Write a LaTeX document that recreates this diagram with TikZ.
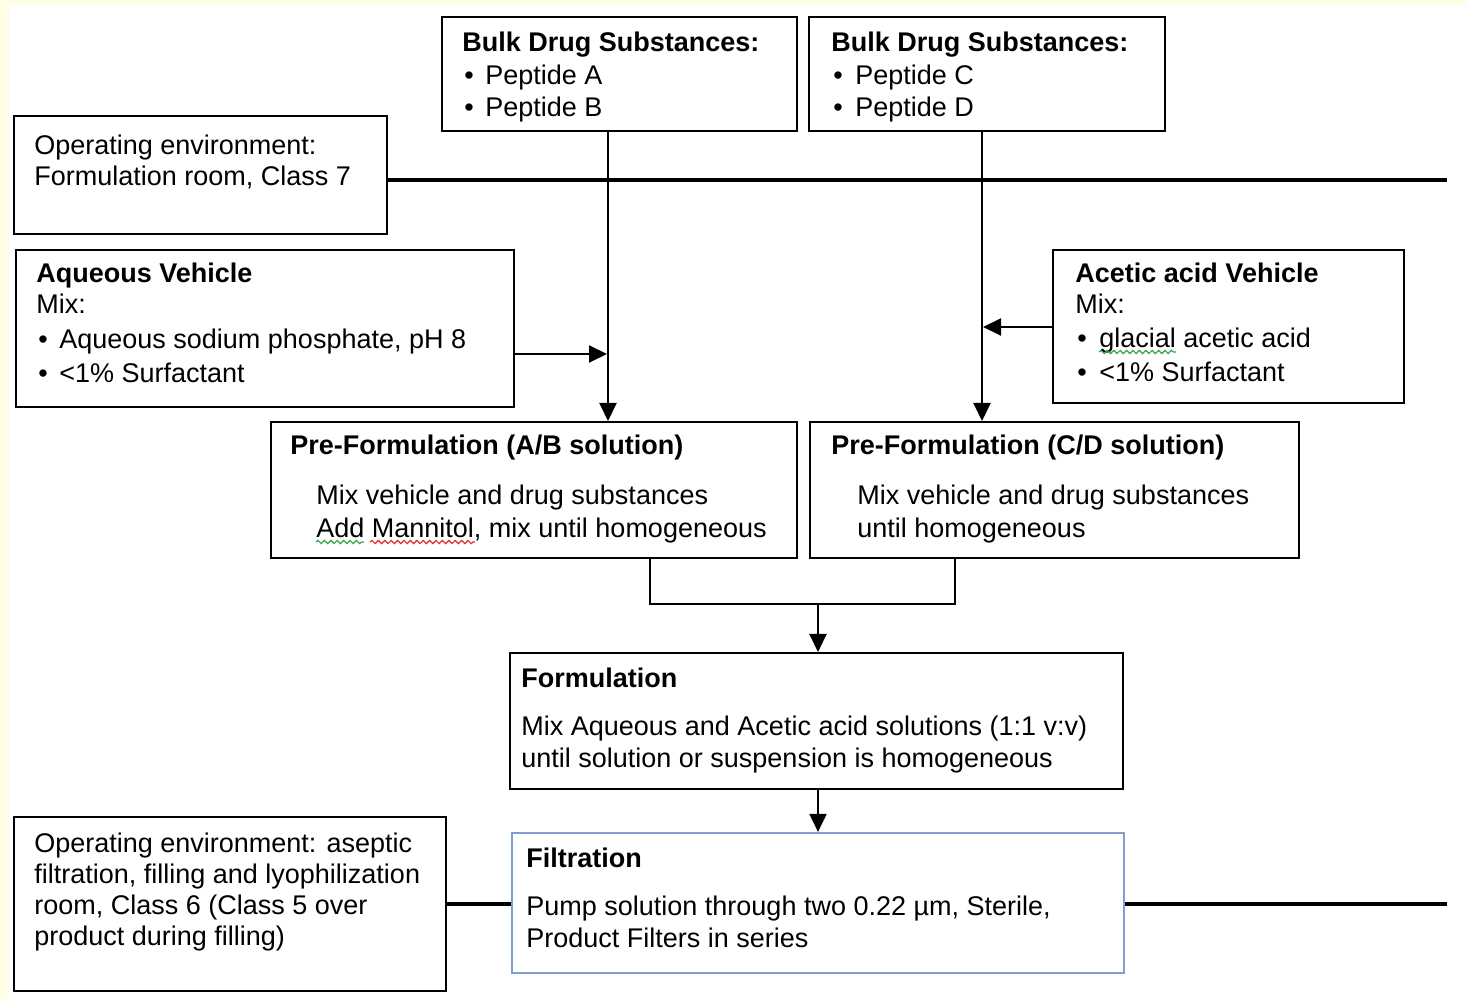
\documentclass[tikz,border=0pt]{standalone}
\usepackage{fontspec}
\setmainfont{Liberation Sans}
\usetikzlibrary{arrows.meta,decorations.pathmorphing,fit}
\definecolor{bgyellow}{RGB}{255,253,228}
\definecolor{filtblue}{RGB}{128,158,208}
\definecolor{spellred}{RGB}{235,40,40}
\definecolor{spellgreen}{RGB}{50,165,70}
\begin{document}
\begin{tikzpicture}[x=0.5pt,y=-0.5pt,
 box/.style={draw=black, line width=1pt, inner sep=0pt},
 bluebox/.style={draw=filtblue, line width=1.1pt, inner sep=0pt},
 txt/.style={anchor=base west, inner sep=0pt, font=\fontsize{13.5}{16}\selectfont},
 ttl/.style={anchor=base west, inner sep=0pt, font=\fontsize{13.5}{16}\selectfont\bfseries},
 arr/.style={line width=1pt, -{Triangle[width=8.5pt,length=9pt]}},
 conn/.style={line width=1pt},
 envline/.style={line width=1.8pt},
 wavy/.style={decorate, decoration={snake, amplitude=0.8pt, segment length=3.2pt}, line width=0.6pt}]
\useasboundingbox (0,0) rectangle (1467,999);
\fill[bgyellow] (0,0) rectangle (1467,999);
\fill[white] (9,5) rectangle (1467,999);

% boxes
\node[box, fit={(442,17) (797,131)}] (bulkab) {};
\node[box, fit={(809,17) (1165,131)}] (bulkcd) {};
\node[box, fit={(14,116) (387,234)}] (env1) {};
\node[box, fit={(16,250) (514,407)}] (aq) {};
\node[box, fit={(1053,250) (1404,403)}] (ac) {};
\node[box, fit={(271,422) (797,558)}] (preab) {};
\node[box, fit={(810,422) (1299,558)}] (precd) {};
\node[box, fit={(510,653) (1123,789)}] (form) {};
\node[box, fit={(14,817) (446,991)}] (env2) {};
\node[bluebox, fit={(512,833) (1124,973)}] (filt) {};

% texts
\node[ttl] (tab) at (462,52) {Bulk Drug Substances:};
\node[txt] (bab1) at (464,85) {•};
\node[txt] (pab1) at (485,85) {Peptide A};
\node[txt] (bab2) at (464,117) {•};
\node[txt] (pab2) at (485,117) {Peptide B};

\node[ttl] (tcd) at (831,52) {Bulk Drug Substances:};
\node[txt] (bcd1) at (833,85) {•};
\node[txt] (pcd1) at (855,85) {Peptide C};
\node[txt] (bcd2) at (833,117) {•};
\node[txt] (pcd2) at (855,117) {Peptide D};

\node[txt] (e1a) at (34,155) {Operating environment:};
\node[txt] (e1b) at (34,186) {Formulation room, Class 7};

\node[ttl] (taq) at (36,283) {Aqueous Vehicle};
\node[txt] (maq) at (36,314) {Mix:};
\node[txt] (baq1) at (38,349) {•};
\node[txt] (aq1) at (59,349) {Aqueous sodium phosphate, pH 8};
\node[txt] (baq2) at (38,383) {•};
\node[txt] (aq2) at (59,383) {<1\% Surfactant};

\node[ttl] (tac) at (1075,283) {Acetic acid Vehicle};
\node[txt] (mac) at (1075,314) {Mix:};
\node[txt] (bac1) at (1077,348) {•};
\node[txt] (ac1) at (1099,348) {glacial acetic acid};
\node[txt] (bac2) at (1077,382) {•};
\node[txt] (ac2) at (1099,382) {<1\% Surfactant};

\node[ttl] (tpab) at (290,455) {Pre-Formulation (A/B solution)};
\node[txt] (pa1) at (316,505) {Mix vehicle and drug substances};
\node[txt] (pa2) at (316,538) {Add Mannitol, mix until homogeneous};

\node[ttl] (tpcd) at (831,455) {Pre-Formulation (C/D solution)};
\node[txt] (pc1) at (857,505) {Mix vehicle and drug substances};
\node[txt] (pc2) at (857,538) {until homogeneous};

\node[ttl] (tform) at (521,687) {Formulation};
\node[txt] (f1) at (521,735) {Mix Aqueous and Acetic acid solutions (1:1 v:v)};
\node[txt] (f2) at (521,767) {until solution or suspension is homogeneous};

\node[txt] (e2a) at (34,852) {Operating environment: aseptic};
\node[txt] (e2b) at (34,883) {filtration, filling and lyophilization};
\node[txt] (e2c) at (34,914) {room, Class 6 (Class 5 over};
\node[txt] (e2d) at (34,945) {product during filling)};

\node[ttl] (tfilt) at (526,867) {Filtration};
\node[txt] (fi1) at (526,915) {Pump solution through two 0.22 µm, Sterile,};
\node[txt] (fi2) at (526,947) {Product Filters in series};

% spell-check marks
\draw[wavy, spellgreen] (1099,352) -- (1176,352);
\draw[wavy, spellgreen] (316,542) -- (364,542);
\draw[wavy, spellred] (370,542) -- (475,542);

% coordinates
\coordinate (xab) at (608,0);
\coordinate (xcd) at (982,0);
\coordinate (xmid) at (818,0);
\coordinate (aqend) at (607,354);
\coordinate (acend) at (983,327);
\coordinate (l1end) at (1447,180);
\coordinate (l2end) at (1447,904);
\coordinate (jl) at (650,604);
\coordinate (jr) at (955,604);

% environment lines
\draw[envline] (env1.east |- l1end) -- (l1end);
\draw[envline] (env2.east |- l2end) -- (filt.west |- l2end);
\draw[envline] (filt.east |- l2end) -- (l2end);

% arrows
\draw[arr] (bulkab.south -| xab) -- (preab.north -| xab);
\draw[arr] (bulkcd.south -| xcd) -- (precd.north -| xcd);
\draw[arr] (aq.east |- aqend) -- (aqend);
\draw[arr] (ac.west |- acend) -- (acend);
\draw[conn] (preab.south -| jl) -- (jl) -- (jr) -- (precd.south -| jr);
\draw[arr] (xmid |- jl) -- (form.north -| xmid);
\draw[arr] (form.south -| xmid) -- (filt.north -| xmid);
\end{tikzpicture}
\end{document}
